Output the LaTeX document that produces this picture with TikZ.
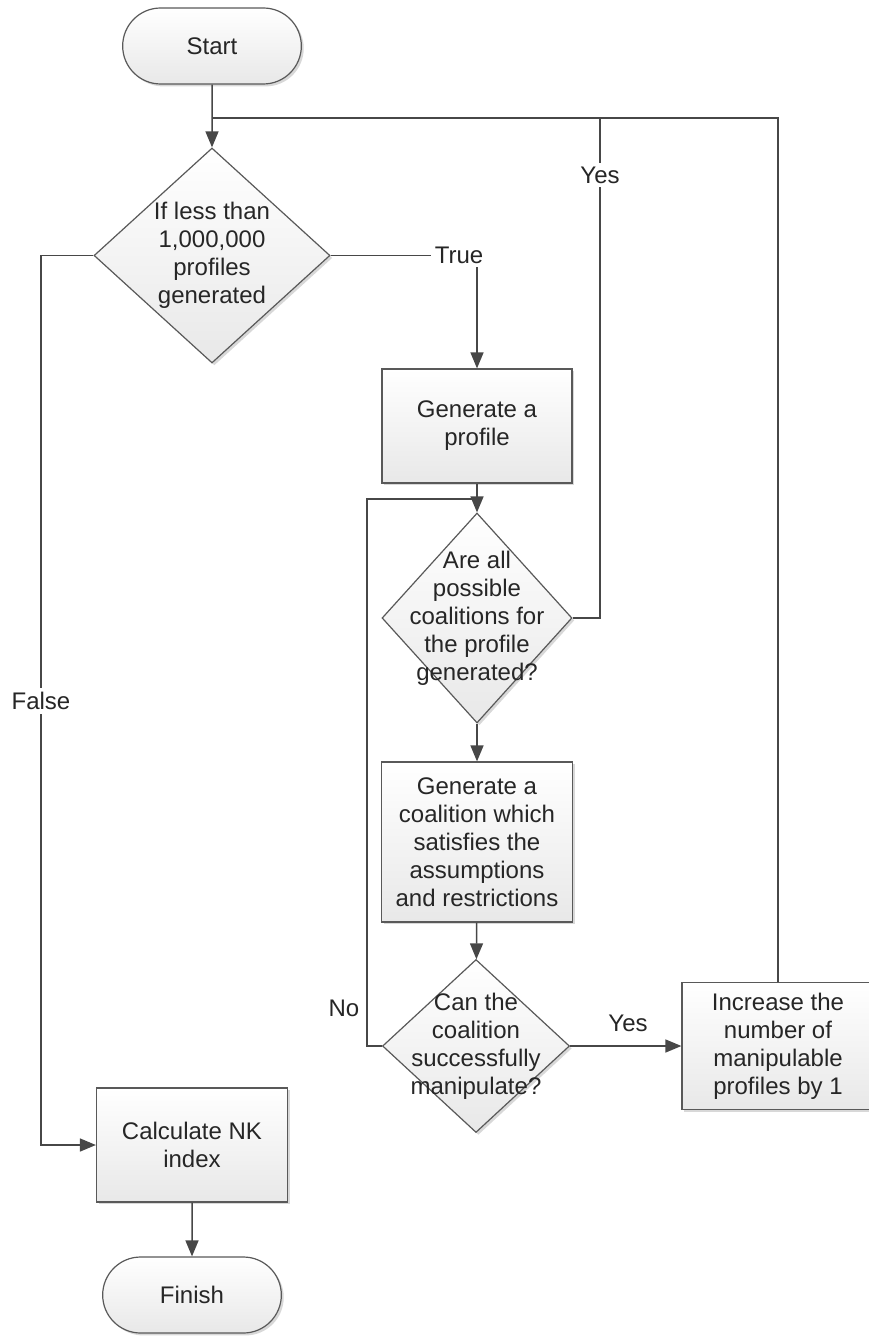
\documentclass[tikz,border=0pt]{standalone}
\usepackage{fontspec}
\setmainfont{Liberation Sans}
\usetikzlibrary{arrows.meta,shapes.geometric,shapes.misc,shadows}

\tikzset{
  line/.style={draw=black!72, line width=0.75pt},
  arrow/.style={line, -{Triangle[length=8pt,width=6.5pt]}},
  shaded/.style={draw=black!65, line width=0.6pt, top color=white, bottom color=black!9,
    drop shadow={shadow xshift=1.2pt, shadow yshift=-1.2pt, fill=black!30, opacity=0.5}},
  terminal/.style={shaded, rounded rectangle, minimum width=96pt, minimum height=38pt},
  process/.style={shaded, rectangle, inner sep=1pt, align=center},
  decision/.style={shaded, diamond, inner sep=0pt},
  qtext/.style={align=center},
  edgelabel/.style={fill=white, inner sep=2pt},
}

\begin{document}
\begin{tikzpicture}[x=0.5pt, y=-0.5pt, font=\fontsize{12}{14}\selectfont, text=black!85]
  \useasboundingbox (0,0) rectangle (868,1336);

  % shapes
  \node[terminal] (start) at (212,46) {Start};
  \node[decision, minimum width=118pt, minimum height=107.5pt] (d1) at (212,255.5) {};
  \node[qtext] (d1t) at (d1) {If less than\\1,000,000\\profiles\\generated};
  \node[process, minimum width=95pt, minimum height=57pt] (gen) at (477,426) {Generate a\\profile};
  \node[decision, minimum width=95pt, minimum height=105pt] (d2) at (477,618) {};
  \node[qtext] (d2t) at (d2) {Are all\\possible\\coalitions for\\the profile\\generated?};
  \node[process, minimum width=95.5pt, minimum height=80pt] (coal) at (477,842)
    {Generate a\\coalition which\\satisfies the\\assumptions\\and restrictions};
  \node[decision, minimum width=93.5pt, minimum height=86.5pt] (d3) at (476,1046) {};
  \node[qtext] (d3t) at (d3) {Can the\\coalition\\successfully\\manipulate?};
  \node[process, minimum width=96pt, minimum height=63.5pt] (incr) at (778,1046)
    {Increase the\\number of\\manipulable\\profiles by 1};
  \node[process, minimum width=95.5pt, minimum height=57pt] (calc) at (192,1145) {Calculate NK\\index};
  \node[terminal] (finish) at (192,1295) {Finish};

  % junction points
  \coordinate (joinA) at (212,118);
  \coordinate (yesup) at (600,118);
  \coordinate (noloop) at (367,499);
  \coordinate (falsex) at (41,700);

  % connectors
  \draw[arrow] (start) -- (d1);
  \draw[line] (d2.east) -| (yesup) -- (joinA);
  \draw[line] (incr.north) |- (joinA);
  \draw[arrow] (d1.east) -| (gen.north);
  \draw[arrow] (gen) -- (d2);
  \draw[line] (d3.west) -| (noloop) -- (gen.south |- noloop);
  \draw[arrow] (d2) -- (coal);
  \draw[arrow] (coal) -- (d3);
  \draw[arrow] (d3) -- (incr);
  \draw[arrow] (d1.west) -| (falsex) |- (calc.west);
  \draw[arrow] (calc) -- (finish);

  % labels
  \node[edgelabel] (ltrue) at (459,255) {True};
  \node[edgelabel] (lyesup) at (600,175) {Yes};
  \node[edgelabel] (lfalse) at (41,701) {False};
  \node (lno) at (344,1008) {No};
  \node (lyes) at (628,1023) {Yes};
\end{tikzpicture}
\end{document}
